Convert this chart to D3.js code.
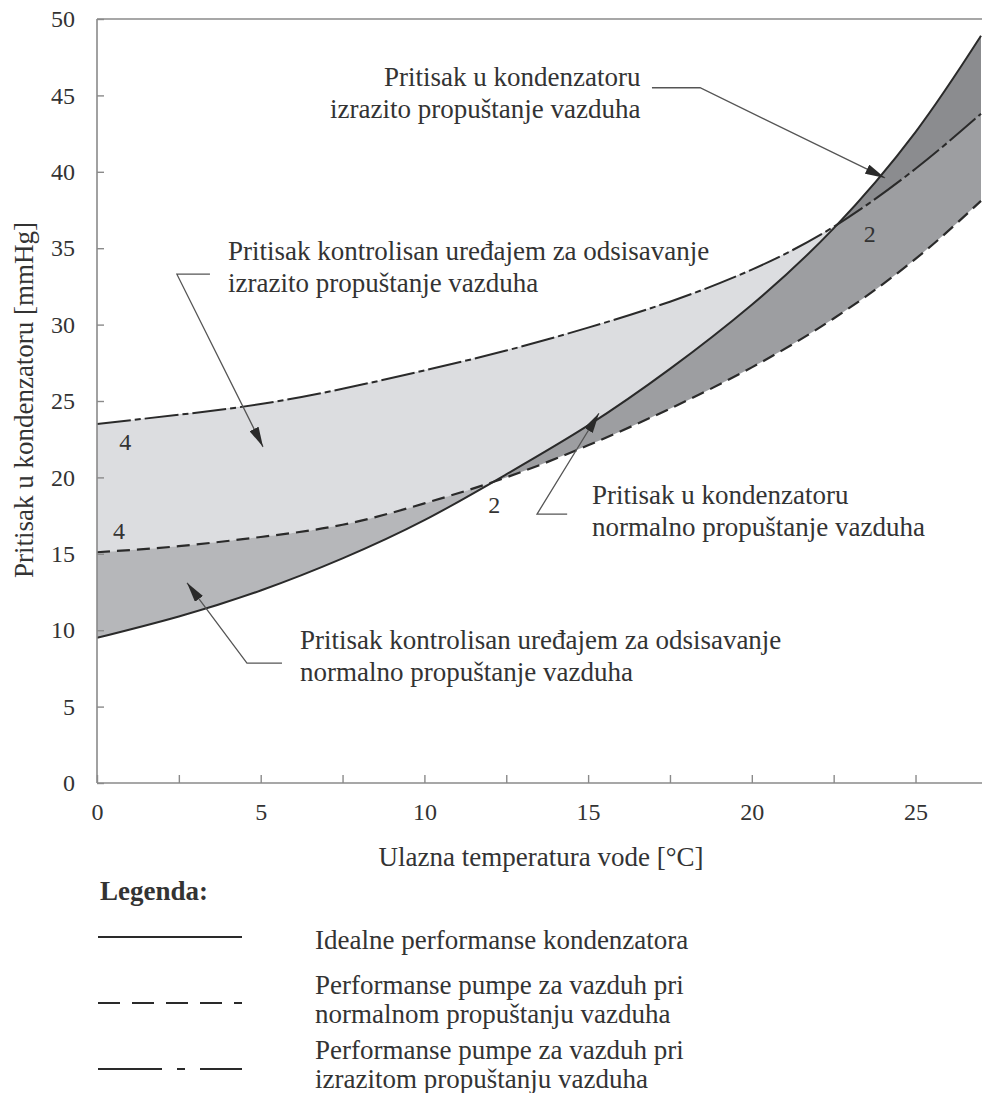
<!DOCTYPE html>
<html>
<head>
<meta charset="utf-8">
<script src="https://cdn.jsdelivr.net/npm/d3@7"></script>
<style>
  body { margin: 0; background: #fff; }
  svg { display: block; }
  svg text { font-family: "Liberation Serif", "Times New Roman", serif !important; fill: #333; }
</style>
</head>
<body>
<svg id="chart" width="982" height="1093"></svg>
<script>
// Inlet water temperature [°C]
const temps = [0, 2.5, 5, 7.5, 10, 12.5, 15, 17.5, 20, 22.5, 25, 27];
// Ideal condenser performance [mmHg]
const idealPressure = [9.5, 10.9, 12.6, 14.7, 17.2, 20.2, 23.4, 27.1, 31.3, 36.3, 42.6, 48.9];
// Air pump performance, normal air leakage [mmHg]
const pumpNormal = [15.1, 15.5, 16.1, 16.9, 18.3, 20.0, 22.1, 24.5, 27.2, 30.4, 34.3, 38.1];
// Air pump performance, heavy air leakage [mmHg]
const pumpHeavy = [23.5, 24.1, 24.8, 25.8, 27.0, 28.3, 29.8, 31.5, 33.6, 36.4, 40.2, 43.8];

const xTickValues = [0, 5, 10, 15, 20, 25];
const xMinorTickValues = [2.5, 7.5, 12.5, 17.5, 22.5];
const yTickValues = [0, 5, 10, 15, 20, 25, 30, 35, 40, 45, 50];

const xTitle = "Ulazna temperatura vode [°C]";
const yTitle = "Pritisak u kondenzatoru [mmHg]";

// Annotations: text lines, text anchor (data units), leader path (data units)
const callouts = [
  { lines: ["Pritisak u kondenzatoru", "izrazito propuštanje vazduha"], at: [16.6, 45.6], anchor: "end",
    leader: [[16.95, 45.5], [18.42, 45.5], [24.07, 39.6]] },
  { lines: ["Pritisak kontrolisan uređajem za odsisavanje", "izrazito propuštanje vazduha"], at: [4.0, 34.25], anchor: "start",
    leader: [[3.45, 33.3], [2.44, 33.3], [5.07, 22.0]] },
  { lines: ["Pritisak u kondenzatoru", "normalno propuštanje vazduha"], at: [15.12, 18.24], anchor: "start",
    leader: [[14.36, 17.6], [13.44, 17.6], [15.33, 24.2]] },
  { lines: ["Pritisak kontrolisan uređajem za odsisavanje", "normalno propuštanje vazduha"], at: [6.2, 8.76], anchor: "start",
    leader: [[5.65, 7.84], [4.58, 7.84], [2.75, 13.1]] }
];
const curveTags = [
  { text: "4", at: [0.86, 21.8] },
  { text: "4", at: [0.67, 16.0] },
  { text: "2", at: [12.13, 17.65] },
  { text: "2", at: [23.6, 35.4] }
];
const legendItems = [
  { lines: ["Idealne performanse kondenzatora"], dash: null },
  { lines: ["Performanse pumpe za vazduh pri", "normalnom propuštanju vazduha"], dash: "22,12" },
  { lines: ["Performanse pumpe za vazduh pri", "izrazitom propuštanju vazduha"], dash: "64,15,8,15" }
];

const svg = d3.select("#chart");
const fontSize = 27;
const plotLeft = 97, plotRight = 981, plotTop = 19, plotBottom = 783;

const x = d3.scaleLinear().domain([0, 27]).range([plotLeft, plotRight]);
const y = d3.scaleLinear().domain([0, 50]).range([plotBottom, plotTop]);

const rows = temps.map((t, i) => ({ t, ideal: idealPressure[i], normal: pumpNormal[i], heavy: pumpHeavy[i] }));
const curve = d3.curveNatural;

const defs = svg.append("defs");
defs.append("clipPath").attr("id", "plot").append("rect")
  .attr("x", plotLeft).attr("y", plotTop).attr("width", plotRight - plotLeft + 1).attr("height", plotBottom - plotTop);

function halfPlane(id, key, above) {
  defs.append("clipPath").attr("id", id).append("path")
    .attr("d", d3.area().curve(curve).x(d => x(d.t))
      .y0(above ? 0 : 1093).y1(d => y(d[key]))(rows));
}
halfPlane("aboveNormal", "normal", true);
halfPlane("belowNormal", "normal", false);
halfPlane("aboveHeavy", "heavy", true);

defs.append("marker").attr("id", "arrow").attr("viewBox", "0 0 20 10")
  .attr("refX", 20).attr("refY", 5).attr("markerWidth", 20).attr("markerHeight", 10)
  .attr("markerUnits", "userSpaceOnUse").attr("orient", "auto")
  .append("path").attr("d", "M0,0L20,5L0,10Z").attr("fill", "#2a2a2a");

const band = (k0, k1) => d3.area().curve(curve).x(d => x(d.t)).y0(d => y(d[k0])).y1(d => y(d[k1]));
const plot = svg.append("g").attr("clip-path", "url(#plot)");

// Shaded regions
plot.append("path").attr("d", band("normal", "heavy")(rows)).attr("fill", "#dcdde0");
plot.append("g").attr("clip-path", "url(#aboveNormal)")
  .append("path").attr("d", band("normal", "ideal")(rows)).attr("fill", "#9d9ea1");
plot.append("g").attr("clip-path", "url(#aboveHeavy)")
  .append("path").attr("d", band("heavy", "ideal")(rows)).attr("fill", "#8b8c8f");
plot.append("g").attr("clip-path", "url(#belowNormal)")
  .append("path").attr("d", band("ideal", "normal")(rows)).attr("fill", "#b6b7ba");

// Curves
const line = key => d3.line().curve(curve).x(d => x(d.t)).y(d => y(d[key]))(rows);
plot.append("path").attr("d", line("ideal")).attr("fill", "none").attr("stroke", "#2a2a2a").attr("stroke-width", 2);
plot.append("path").attr("d", line("normal")).attr("fill", "none").attr("stroke", "#2a2a2a")
  .attr("stroke-width", 2.2).attr("stroke-dasharray", "13,7");
plot.append("path").attr("d", line("heavy")).attr("fill", "none").attr("stroke", "#2a2a2a")
  .attr("stroke-width", 2).attr("stroke-dasharray", "34,4,6,4");

// Frame and axes
const axisColor = "#8a8a8a";
svg.append("line").attr("x1", plotLeft).attr("x2", 982).attr("y1", plotTop).attr("y2", plotTop)
  .attr("stroke", axisColor).attr("stroke-width", 1.6);

const yAxis = svg.append("g").attr("transform", `translate(${plotLeft},0)`)
  .call(d3.axisLeft(y).tickValues(yTickValues).tickSizeInner(-7).tickSizeOuter(0).tickPadding(22));
const xAxis = svg.append("g").attr("transform", `translate(0,${plotBottom})`)
  .call(d3.axisBottom(x).tickValues(xTickValues.concat(xMinorTickValues)).tickSizeInner(-8).tickSizeOuter(0).tickPadding(20)
    .tickFormat(d => xTickValues.includes(d) ? d3.format("d")(d) : ""));
[xAxis, yAxis].forEach(a => {
  a.attr("font-family", null);
  a.select(".domain").attr("stroke", axisColor).attr("stroke-width", 1.6);
  a.selectAll(".tick line").attr("stroke", axisColor).attr("stroke-width", 1.4);
  a.selectAll(".tick text").attr("font-size", 24).style("fill", "#333");
});
yAxis.select(".domain").attr("d", `M0,${plotBottom}V${plotTop}`);
xAxis.select(".domain").attr("d", `M${plotLeft},0H982`);

svg.append("text").attr("x", 541).attr("y", 866).attr("text-anchor", "middle")
  .attr("font-size", fontSize).text(xTitle);
svg.append("text").attr("transform", `translate(33,400) rotate(-90)`).attr("text-anchor", "middle")
  .attr("font-size", fontSize).text(yTitle);

// Callouts
callouts.forEach(c => {
  svg.append("path").attr("d", d3.line().x(p => x(p[0])).y(p => y(p[1])).curve(d3.curveLinear)(c.leader))
    .attr("fill", "none").attr("stroke", "#555").attr("stroke-width", 1.3).attr("marker-end", "url(#arrow)");
  const t = svg.append("text").attr("font-size", fontSize).attr("text-anchor", c.anchor);
  c.lines.forEach((s, i) => t.append("tspan").attr("x", x(c.at[0])).attr("y", y(c.at[1]) + i * 32).text(s));
});
curveTags.forEach(c => {
  svg.append("text").attr("x", x(c.at[0])).attr("y", y(c.at[1])).attr("text-anchor", "middle")
    .attr("font-size", 24).text(c.text);
});

// Legend
svg.append("text").attr("x", 100).attr("y", 900).attr("font-size", fontSize).attr("font-weight", "bold").text("Legenda:");
const legendLineY = [937, 1003, 1069];
const legendTextY = [949, 994, 1059];
legendItems.forEach((it, i) => {
  svg.append("line").attr("x1", 98).attr("x2", 242).attr("y1", legendLineY[i]).attr("y2", legendLineY[i])
    .attr("stroke", "#2a2a2a").attr("stroke-width", 2.2).attr("stroke-dasharray", it.dash);
  const t = svg.append("text").attr("font-size", fontSize);
  it.lines.forEach((s, j) => t.append("tspan").attr("x", 315).attr("y", legendTextY[i] + j * 29).text(s));
});
</script>
</body>
</html>
